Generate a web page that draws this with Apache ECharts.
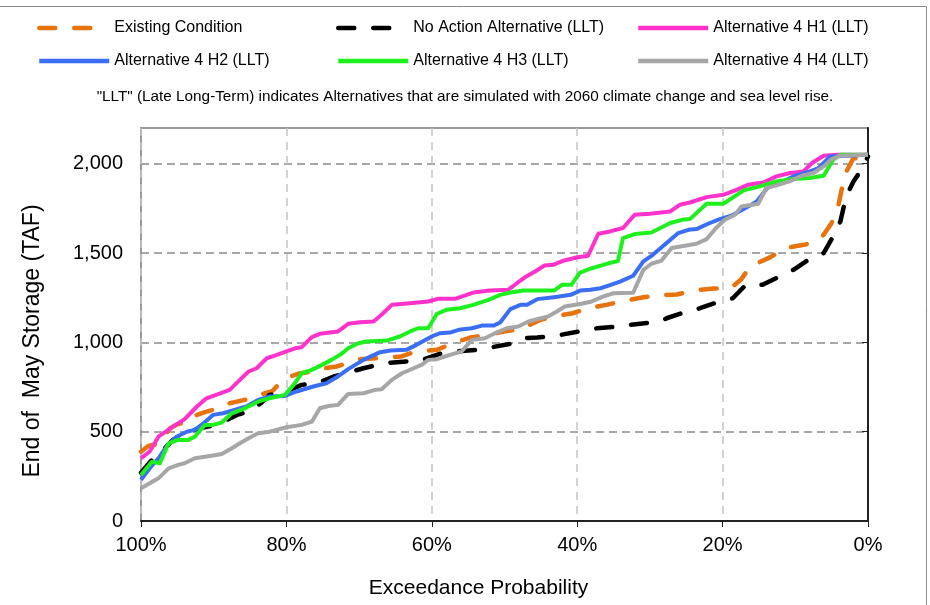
<!DOCTYPE html>
<html>
<head>
<meta charset="utf-8">
<title>End of May Storage</title>
<script src="https://cdn.jsdelivr.net/npm/echarts@6/dist/echarts.min.js"></script>
<style>
  html, body { margin: 0; padding: 0; background: #fff; }
  #chart { width: 930px; height: 605px; }
</style>
</head>
<body>
<div id="chart"></div>
<script>
// Exceedance probability (%) vs. end-of-May storage (TAF)
const existingCondition = [[100,388],[99,420],[97.4,435],[96,519],[94.9,543],[93.5,551],[92.3,594],[91.2,609],[89.6,629],[87.8,659],[86.2,674],[84.8,687],[83,715],[82,725],[80.7,781],[79.5,809],[78.4,824],[76.3,837],[74.7,855],[73.1,865],[71.7,883],[69.9,906],[67.4,912],[64.2,921],[62.2,949],[59.3,958],[57.3,992],[54.7,1027],[52.4,1042],[50.1,1061],[47.8,1074],[45.1,1126],[42.8,1148],[40.6,1163],[38.5,1191],[36,1210],[33.9,1229],[30.9,1253],[28.6,1264],[26.3,1268],[24,1290],[21.2,1302],[18.9,1303],[17.5,1350],[16.2,1425],[13.4,1477],[11.4,1528],[8.8,1546],[7.2,1565],[6.1,1602],[5,1668],[4.1,1761],[3.2,1938],[2,2032],[1.1,2026],[0,2040]];

const noActionLLT = [[100,270],[98.5,342],[97.4,379],[95.6,454],[94.2,491],[92.3,514],[90.5,532],[89.1,547],[86.8,594],[85.2,612],[83.5,660],[82.3,706],[80.4,719],[77.9,762],[75.8,771],[73.5,809],[71.5,831],[69.4,855],[67.4,874],[66.7,883],[63.5,893],[61.6,898],[58.9,936],[56.6,949],[53.8,958],[51.7,973],[49.2,992],[47.8,1023],[45.5,1027],[42.8,1038],[39.8,1061],[37.3,1079],[34.3,1089],[32.8,1098],[28.6,1117],[27.7,1135],[24.9,1173],[23.1,1191],[20.4,1229],[18.6,1247],[16.8,1322],[14.5,1322],[11.7,1378],[10.1,1410],[7.5,1481],[6.1,1500],[4.8,1593],[3.8,1677],[3,1817],[2,1901],[0.9,1966],[0,2041]];

const alt4H1 = [[100,351],[98.8,389],[97.6,472],[95.6,528],[94,570],[92.3,641],[91,687],[89.1,715],[87.8,734],[86.4,790],[85.2,837],[84.1,855],[82.7,911],[81.3,930],[80,949],[78.8,967],[77.9,973],[76.5,1029],[75.4,1048],[72.9,1061],[71.5,1104],[69.9,1113],[68,1117],[66.7,1163],[65.5,1210],[63,1219],[60.5,1229],[59.1,1244],[56.8,1244],[54.3,1279],[52,1290],[49.5,1294],[48.3,1331],[47,1369],[45.8,1397],[44.5,1430],[43.3,1434],[41.9,1457],[40.1,1475],[38.5,1485],[37.1,1608],[35.5,1621],[33.7,1640],[32.1,1714],[30,1720],[27.2,1733],[25.9,1770],[24.5,1783],[22.2,1813],[19.9,1826],[18.1,1854],[16.5,1882],[14.4,1895],[12.6,1929],[10.7,1948],[8.9,1957],[7.7,2004],[6.1,2045],[4.3,2050],[0,2050]];

const alt4H2 = [[100,230],[98.8,295],[97.6,351],[96.5,416],[95.1,472],[93.7,500],[92.6,510],[91.4,547],[90.1,594],[88.7,603],[86.8,626],[85.5,641],[83.9,678],[82.3,697],[80.2,700],[78.6,725],[76.3,753],[74.5,771],[72.9,809],[71.5,850],[69.4,902],[67.1,945],[65.7,954],[63.5,958],[62.1,986],[60,1033],[58.9,1051],[57.5,1055],[56.3,1070],[54.5,1079],[53.1,1094],[51.5,1094],[50.6,1111],[49.2,1186],[47.8,1210],[46.9,1210],[45.5,1242],[43.2,1253],[40.9,1266],[39.6,1290],[38.2,1294],[36.8,1303],[35.5,1320],[34.1,1340],[32.3,1373],[30.9,1453],[29.6,1490],[27.7,1556],[26.1,1612],[24.7,1630],[23.6,1634],[22,1664],[20.4,1690],[18.8,1709],[17.1,1746],[15.3,1789],[13.7,1873],[12.1,1892],[10.3,1929],[8,1957],[6.8,1976],[5.2,2041],[0,2050]];

const alt4H3 = [[100,258],[98.5,332],[97.4,323],[96.2,435],[94.9,454],[93.5,454],[92.6,472],[91.2,538],[90.1,538],[88.9,551],[87.5,603],[85.7,631],[83.9,668],[82.3,687],[80.2,706],[79,762],[77.9,827],[76.5,846],[75.1,874],[73.8,902],[72.4,936],[71.5,967],[70.1,995],[69,1005],[66.2,1010],[64.4,1033],[63,1061],[61.9,1079],[60.5,1079],[59.3,1160],[58,1182],[56.1,1191],[54.3,1210],[52.2,1238],[50.6,1266],[49.2,1279],[47.4,1290],[43.2,1290],[42.1,1322],[40.8,1322],[39.6,1391],[38,1415],[36.4,1434],[35.3,1447],[34.4,1455],[33.7,1584],[32.1,1606],[29.8,1615],[27.2,1668],[25.6,1686],[24.5,1690],[22.2,1776],[19.9,1776],[17.1,1851],[14.9,1873],[12.6,1901],[10.3,1914],[8,1920],[6.1,1933],[4.8,2022],[3.8,2050],[0,2050]];

const alt4H4 = [[100,183],[98.8,211],[97.6,239],[96.2,295],[94.9,314],[94,323],[92.6,351],[90.5,364],[88.9,375],[87.5,407],[86.4,435],[85.2,463],[83.9,491],[82.3,500],[80,525],[77.9,538],[76.5,556],[75.4,631],[74.2,644],[72.9,650],[71.5,711],[69.4,715],[67.8,734],[66.9,738],[65.5,790],[64.1,827],[62.5,855],[61.4,874],[60.5,902],[59.3,906],[57.5,930],[55.9,949],[54.5,1014],[52.7,1023],[51.1,1055],[49.7,1079],[48.1,1089],[46.7,1117],[45.5,1130],[44,1145],[42.8,1173],[41.7,1201],[39.4,1216],[38,1229],[36.4,1257],[35,1275],[32.3,1278],[30.9,1406],[29.8,1440],[28.4,1458],[27,1528],[25.2,1541],[23.6,1552],[22.2,1578],[20.9,1640],[19.7,1686],[18.3,1714],[17.4,1761],[15.1,1776],[14,1864],[12.6,1879],[10.8,1901],[9.1,1933],[7.5,1948],[6.1,1985],[5,2026],[3.8,2045],[0,2050]];

const seriesNames = ['Existing Condition', 'No Action Alternative (LLT)', 'Alternative 4 H1 (LLT)',
                     'Alternative 4 H2 (LLT)', 'Alternative 4 H3 (LLT)', 'Alternative 4 H4 (LLT)'];
const seriesData = [existingCondition, noActionLLT, alt4H1, alt4H2, alt4H3, alt4H4];
const seriesColors = ['#E8720C', '#000000', '#FF33CC', '#3A6EF5', '#1EF01E', '#A6A6A6'];
const seriesDashed = [true, true, false, false, false, false];

const xTicks = [0, 20, 40, 60, 80, 100];
const yTicks = [0, 500, 1000, 1500, 2000];
const noteText = '"LLT" (Late Long-Term) indicates Alternatives that are simulated with 2060 climate change and sea level rise.';

const FONT = '"Liberation Sans", Arial, sans-serif';

const legendSlots = [
  { left: 37, top: 20 }, { left: 336, top: 20 }, { left: 636, top: 20 },
  { left: 37, top: 53 }, { left: 336, top: 53 }, { left: 636, top: 53 }
];

const chart = echarts.init(document.getElementById('chart'), null, { renderer: 'canvas' });

chart.setOption({
  backgroundColor: '#ffffff',
  animation: false,
  textStyle: { fontFamily: FONT, color: '#000' },
  title: {
    text: noteText,
    left: 'center',
    top: 89,
    padding: 0,
    textStyle: { fontFamily: FONT, fontSize: 15.3, fontWeight: 'normal', color: '#000' }
  },
  legend: seriesNames.map((name, i) => ({
    data: [name],
    left: legendSlots[i].left,
    top: legendSlots[i].top,
    padding: 0,
    itemGap: 0,
    itemWidth: 70,
    itemHeight: 16,
    selectedMode: false,
    itemStyle: { opacity: 0, borderWidth: 0 },
    lineStyle: { width: seriesDashed[i] ? 4.5 : 4.5, type: 'inherit', cap: seriesDashed[i] ? 'round' : 'butt' },
    textStyle: { fontFamily: FONT, fontSize: 16, color: '#000', lineHeight: 16, padding: [0, 0, 0, 0] }
  })),
  graphic: [
    { type: 'line', shape: { x1: 0, y1: 6.5, x2: 926.5, y2: 6.5 }, style: { stroke: '#8c8c8c', lineWidth: 1 }, silent: true },
    { type: 'line', shape: { x1: 926.5, y1: 6.5, x2: 926.5, y2: 605 }, style: { stroke: '#8c8c8c', lineWidth: 1 }, silent: true }
  ],
  grid: {
    left: 141, right: 62, top: 128, bottom: 84,
    show: true, borderColor: '#9a9a9a', borderWidth: 2, backgroundColor: 'transparent'
  },
  xAxis: {
    type: 'value',
    inverse: true,
    min: 0, max: 100, interval: 20,
    name: 'Exceedance Probability',
    nameLocation: 'middle',
    nameGap: 57,
    nameTextStyle: { fontFamily: FONT, fontSize: 21, color: '#000', padding: [0, 52, 0, 0] },
    axisLine: { show: true, onZero: false, lineStyle: { color: '#222', width: 2 } },
    axisTick: { show: true, length: 6, lineStyle: { color: '#222', width: 1 }, customValues: xTicks },
    axisLabel: { fontFamily: FONT, fontSize: 20, color: '#000', margin: 14, customValues: xTicks,
                 formatter: v => v + '%' },
    splitLine: { show: true, lineStyle: { color: '#c4c4c4', width: 1.5, type: [8, 6] } }
  },
  yAxis: {
    type: 'value',
    min: 0, max: 2200, interval: 500,
    name: 'End of  May Storage (TAF)',
    nameLocation: 'middle',
    nameGap: 97,
    nameTextStyle: { fontFamily: FONT, fontSize: 23, color: '#000', padding: [0, 33, 0, 0] },
    axisLine: { show: true, lineStyle: { color: '#222', width: 2 } },
    axisTick: { show: true, length: 6, lineStyle: { color: '#222', width: 1 }, customValues: yTicks },
    axisLabel: { fontFamily: FONT, fontSize: 20, color: '#000', margin: 18, customValues: yTicks,
                 formatter: v => (v % 500 === 0 && v <= 2000) ? v.toLocaleString('en-US') : '' },
    splitLine: { show: true, lineStyle: { color: '#8a8a8a', width: 1.5, type: [8, 5] } }
  },
  series: seriesNames.map((name, i) => ({
    name: name,
    type: 'line',
    data: seriesData[i],
    symbol: 'none',
    showSymbol: false,
    smooth: false,
    clip: true,
    lineStyle: {
      color: seriesColors[i],
      width: seriesDashed[i] ? 4.5 : 4,
      type: seriesDashed[i] ? [16, 19] : 'solid',
      cap: seriesDashed[i] ? 'round' : 'butt',
      join: 'round'
    },
    itemStyle: { color: seriesColors[i] },
    emphasis: { disabled: true }
  }))
});
</script>
</body>
</html>
